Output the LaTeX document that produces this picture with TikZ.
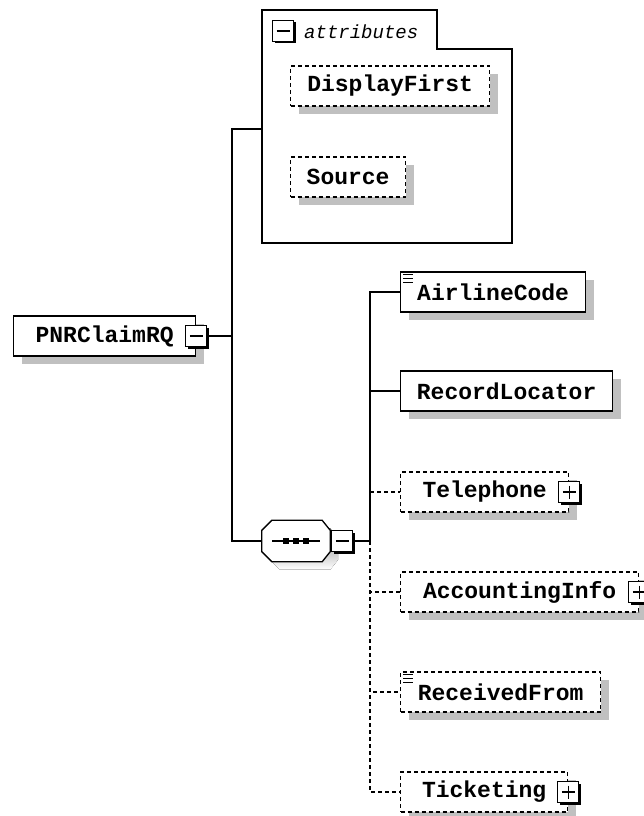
\documentclass[tikz,border=0pt]{standalone}
\usepackage{fontspec}
\setmonofont{Liberation Mono}
\usetikzlibrary{shadows}
\definecolor{shade}{HTML}{C0C0C0}

\tikzset{
  elem/.style={draw,fill=white,line width=1.3pt,anchor=west,minimum height=40pt,
    inner sep=0pt,font=\ttfamily\bfseries\fontsize{23}{25}\selectfont,
    drop shadow={shadow xshift=8pt,shadow yshift=-8pt,fill=shade,opacity=1}},
  optelem/.style={elem,dash pattern=on 4pt off 3pt},
  seqbox/.style={minimum width=68pt,minimum height=41pt,inner sep=0pt},
  minusbox/.style={draw,fill=white,line width=1.2pt,minimum size=21pt,inner sep=0pt,
    drop shadow={shadow xshift=2pt,shadow yshift=-2pt,fill=black,opacity=1},
    path picture={\draw[line width=1.2pt] ([xshift=4pt]path picture bounding box.west)
      -- ([xshift=-4pt]path picture bounding box.east);}},
  plusbox/.style={minusbox,
    path picture={\draw[line width=1.2pt] ([xshift=4pt]path picture bounding box.west)
      -- ([xshift=-4pt]path picture bounding box.east)
      ([yshift=-4pt]path picture bounding box.north)
      -- ([yshift=4pt]path picture bounding box.south);}},
  link/.style={line width=1.3pt},
  optlink/.style={link,dash pattern=on 4pt off 3pt}
}

\begin{document}
\begin{tikzpicture}[x=1pt,y=-1pt,line join=miter]
  \useasboundingbox (0,0) rectangle (644,816);

  % attributes
  \draw[link] (262,10) -- (437,10) -- (437,49) -- (512,49) -- (512,243) -- (262,243) -- cycle;
  \node[minusbox] (attrminus) at (283,31) {};
  \node[anchor=west,inner sep=0pt,font=\ttfamily\itshape\fontsize{19}{21}\selectfont]
    (attrlabel) at (304,32) {attributes};
  \node[optelem,minimum width=199pt] (display) at (290,86) {DisplayFirst};
  \node[optelem,minimum width=115pt] (source) at (290,177) {Source};
  \coordinate (attrin) at (262,129);

  % root
  \node[elem,minimum width=182pt] (root) at (13,336) {PNRClaimRQ};
  \node[minusbox] (rootminus) at (root.east) {};
  \coordinate (rootfork) at (232,336);

  % sequence
  \node[seqbox] (seq) at (296,541) {};
  \fill[shade,transform canvas={xshift=8pt,yshift=-8pt}]
    ([yshift=-10pt]seq.north west) -- ([xshift=10pt]seq.north west)
    -- ([xshift=-8pt]seq.north east) -- ([yshift=-10pt]seq.north east)
    -- ([yshift=10pt]seq.south east) -- ([xshift=-8pt]seq.south east)
    -- ([xshift=10pt]seq.south west) -- ([yshift=10pt]seq.south west) -- cycle;
  \draw[link,fill=white] ([yshift=-10pt]seq.north west) -- ([xshift=10pt]seq.north west)
    -- ([xshift=-8pt]seq.north east) -- ([yshift=-10pt]seq.north east)
    -- ([yshift=10pt]seq.south east) -- ([xshift=-8pt]seq.south east)
    -- ([xshift=10pt]seq.south west) -- ([yshift=10pt]seq.south west) -- cycle;
  \draw[line width=1.3pt] ([xshift=-24pt]seq.center) -- ([xshift=24pt]seq.center);
  \foreach \dx in {-10,0,10}
    \fill ([xshift=\dx pt]seq.center) +(-3,-3) rectangle +(3,3);
  \node[minusbox,anchor=west,xshift=1pt] (seqminus) at (seq.east) {};
  \coordinate (seqfork) at (370,541);

  % children
  \node[elem,minimum width=185pt] (airline) at (400,292) {AirlineCode};
  \node[elem,minimum width=212pt] (record) at (400,391) {RecordLocator};
  \node[optelem,minimum width=168pt] (tel) at (400,492) {Telephone};
  \node[optelem,minimum width=238pt] (acc) at (400,592) {AccountingInfo};
  \node[optelem,minimum width=200pt] (recv) at (400,692) {ReceivedFrom};
  \node[optelem,minimum width=167pt] (tic) at (400,792) {Ticketing};
  \node[plusbox] (telplus) at (tel.east) {};
  \node[plusbox] (accplus) at (acc.east) {};
  \node[plusbox] (ticplus) at (tic.east) {};

  % doc icons
  \foreach \n in {airline,recv}
    \foreach \dy in {3,7,11}
      \draw[line width=1pt] ([xshift=3pt,yshift=-\dy pt]\n.north west) -- ++(10,0);

  % connectors
  \draw[link] (rootminus.east) -- (rootfork);
  \draw[link] (attrin) -| (rootfork) |- (seq.west);
  \draw[link] (seqminus.east) -- (seqfork);
  \draw[link] (seqfork) |- (airline.west);
  \draw[link] (seqfork) |- (record.west);
  \foreach \n in {tel,acc,recv,tic}
    \draw[optlink] (seqfork) |- (\n.west);
\end{tikzpicture}
\end{document}
